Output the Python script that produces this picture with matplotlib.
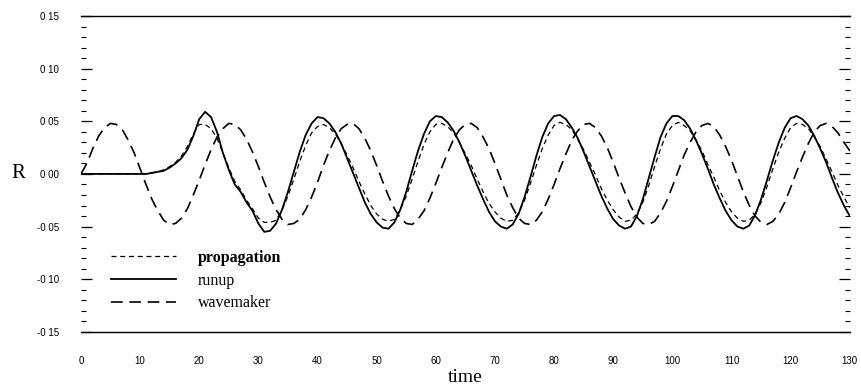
import matplotlib
matplotlib.use("Agg")
import matplotlib.pyplot as plt
from matplotlib.ticker import MultipleLocator

# values, one sample per time unit (t = 0 .. 130)
time = list(range(131))

wavemaker = [
    0.0, 0.010, 0.024, 0.036, 0.044, 0.048, 0.047, 0.042, 0.032, 0.020,
    0.005, -0.010, -0.024, -0.035, -0.044, -0.048, -0.047, -0.042, -0.033, -0.020,
    -0.006, 0.009, 0.023, 0.035, 0.043, 0.048, 0.047, 0.042, 0.033, 0.021,
    0.007, -0.008, -0.022, -0.034, -0.043, -0.048, -0.047, -0.043, -0.034, -0.022,
    -0.008, 0.008, 0.022, 0.034, 0.043, 0.047, 0.048, 0.043, 0.034, 0.022,
    0.008, -0.007, -0.021, -0.033, -0.042, -0.047, -0.048, -0.043, -0.035, -0.023,
    -0.009, 0.006, 0.020, 0.033, 0.042, 0.047, 0.048, 0.044, 0.035, 0.024,
    0.010, -0.005, -0.020, -0.032, -0.042, -0.047, -0.048, -0.044, -0.036, -0.024,
    -0.010, 0.005, 0.019, 0.032, 0.041, 0.047, 0.048, 0.044, 0.036, 0.025,
    0.011, -0.004, -0.018, -0.031, -0.041, -0.047, -0.048, -0.045, -0.037, -0.026,
    -0.012, 0.003, 0.018, 0.030, 0.040, 0.046, 0.048, 0.045, 0.037, 0.026,
    0.013, -0.002, -0.017, -0.030, -0.040, -0.046, -0.048, -0.045, -0.038, -0.027,
    -0.013, 0.002, 0.016, 0.029, 0.040, 0.046, 0.048, 0.045, 0.039, 0.030,
    0.022,
]

runup = [
    0.0, 0.0, 0.0, 0.0, 0.0, 0.0, 0.0, 0.0, 0.0, 0.0,
    0.0, 0.0, 0.001, 0.002, 0.003, 0.006, 0.010, 0.015, 0.023, 0.036,
    0.052, 0.059, 0.054, 0.040, 0.020, 0.004, -0.010, -0.017, -0.027, -0.035,
    -0.047, -0.055, -0.054, -0.047, -0.034, -0.017, 0.002, 0.021, 0.037, 0.048,
    0.054, 0.053, 0.048, 0.040, 0.029, 0.015, 0.001, -0.013, -0.027, -0.038,
    -0.046, -0.051, -0.052, -0.046, -0.034, -0.017, 0.003, 0.022, 0.038, 0.050,
    0.055, 0.054, 0.049, 0.041, 0.030, 0.017, 0.003, -0.011, -0.024, -0.036,
    -0.045, -0.050, -0.052, -0.048, -0.038, -0.022, -0.003, 0.017, 0.035, 0.048,
    0.055, 0.056, 0.052, 0.044, 0.034, 0.021, 0.007, -0.007, -0.021, -0.033,
    -0.043, -0.049, -0.052, -0.050, -0.040, -0.024, -0.004, 0.016, 0.035, 0.048,
    0.055, 0.055, 0.051, 0.043, 0.032, 0.019, 0.005, -0.010, -0.023, -0.035,
    -0.044, -0.050, -0.052, -0.049, -0.039, -0.024, -0.006, 0.013, 0.030, 0.044,
    0.053, 0.055, 0.052, 0.046, 0.036, 0.024, 0.011, -0.004, -0.018, -0.030,
    -0.040,
]

propagation = [
    0.0, 0.0, 0.0, 0.0, 0.0, 0.0, 0.0, 0.0, 0.0, 0.0,
    0.0, 0.0, 0.001, 0.002, 0.004, 0.007, 0.011, 0.017, 0.026, 0.038,
    0.047, 0.047, 0.043, 0.034, 0.020, 0.006, -0.007, -0.015, -0.025, -0.033,
    -0.042, -0.046, -0.046, -0.044, -0.034, -0.021, -0.005, 0.012, 0.027, 0.039,
    0.045, 0.047, 0.044, 0.038, 0.029, 0.018, 0.006, -0.007, -0.019, -0.030,
    -0.038, -0.043, -0.045, -0.043, -0.034, -0.021, -0.005, 0.012, 0.028, 0.040,
    0.047, 0.048, 0.045, 0.039, 0.030, 0.019, 0.008, -0.005, -0.017, -0.028,
    -0.036, -0.042, -0.045, -0.044, -0.037, -0.025, -0.009, 0.008, 0.024, 0.037,
    0.046, 0.049, 0.047, 0.042, 0.033, 0.023, 0.011, -0.001, -0.014, -0.025,
    -0.034, -0.041, -0.045, -0.044, -0.038, -0.027, -0.011, 0.007, 0.024, 0.038,
    0.046, 0.049, 0.046, 0.041, 0.032, 0.022, 0.009, -0.003, -0.016, -0.027,
    -0.036, -0.042, -0.045, -0.044, -0.038, -0.027, -0.012, 0.005, 0.021, 0.034,
    0.044, 0.048, 0.047, 0.043, 0.035, 0.026, 0.014, 0.002, -0.011, -0.022,
    -0.032,
]

x_ticks = [0, 10, 20, 30, 40, 50, 60, 70, 80, 90, 100, 110, 120, 130]
y_ticks = [0.15, 0.10, 0.05, 0.00, -0.05, -0.10, -0.15]
y_tick_labels = ["0 15", "0 10", "0 05", "0 00", "-0 05", "-0 10", "-0 15"]


def main():
    fig = plt.figure(figsize=(8.61, 3.9), dpi=100)
    ax = fig.add_axes([0.094, 0.149, 0.893, 0.810])

    ax.plot(time, propagation, color="black", lw=0.9, ls=(0, (4, 3)), label="propagation")
    ax.plot(time, runup, color="black", lw=1.3, ls="-", label="runup")
    ax.plot(time, wavemaker, color="black", lw=1.2, ls=(0, (7, 4)), label="wavemaker")

    ax.set_xlim(0, 130)
    ax.set_ylim(-0.15, 0.15)

    ax.spines["left"].set_visible(False)
    ax.spines["right"].set_visible(False)
    ax.spines["top"].set_linewidth(1.0)
    ax.spines["bottom"].set_linewidth(1.0)

    ax.set_xticks(x_ticks)
    ax.set_xticklabels([str(v) for v in x_ticks], fontsize=7, family="Liberation Sans")
    ax.tick_params(axis="x", length=0, pad=17)

    ax.set_yticks(y_ticks)
    ax.set_yticklabels(y_tick_labels, fontsize=7, family="Liberation Sans")
    ax.yaxis.set_minor_locator(MultipleLocator(0.01))
    ax.tick_params(axis="y", which="major", direction="in", length=8, width=0.9,
                   left=True, right=True, pad=16)
    ax.tick_params(axis="y", which="minor", direction="in", length=3.5, width=0.8,
                   left=True, right=True)

    ax.set_ylabel("R", rotation=0, fontsize=15, family="Liberation Serif")
    ax.yaxis.set_label_coords(-0.082, 0.5)
    ax.yaxis.label.set_va("center")
    ax.set_xlabel("time", fontsize=14, family="Liberation Serif")
    ax.xaxis.set_label_coords(0.5, -0.145)
    ax.xaxis.label.set_va("center")

    leg = ax.legend(loc="upper left", bbox_to_anchor=(0.02, 0.305), frameon=False,
                    prop={"family": "Liberation Serif", "size": 11.5},
                    handlelength=4.1, handletextpad=1.35, labelspacing=0.42)
    leg.get_texts()[0].set_fontweight("bold")

    fig.savefig("out.png", dpi=100)


if __name__ == '__main__':
    main()
